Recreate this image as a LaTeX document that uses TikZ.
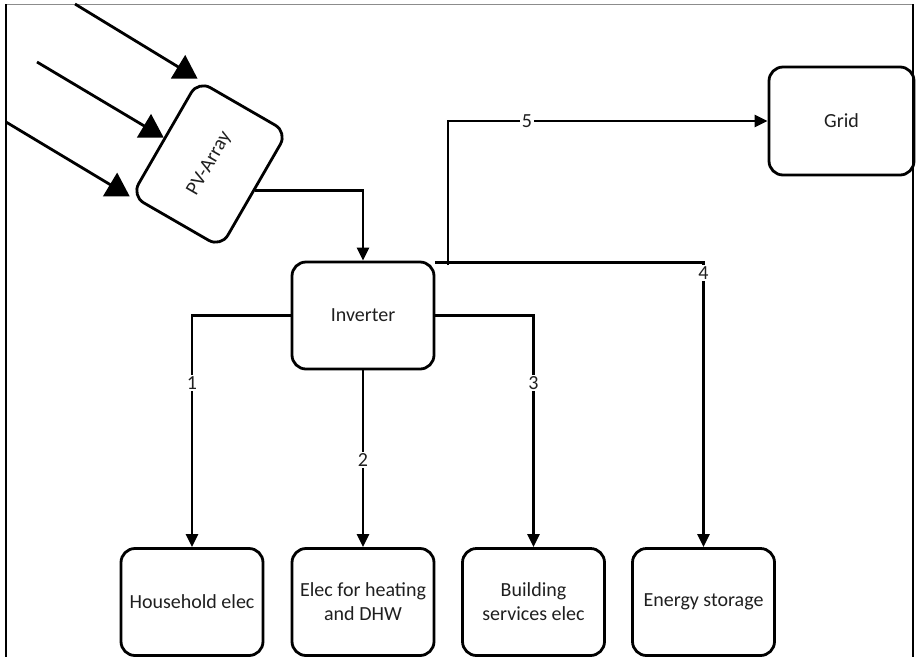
\documentclass[tikz,border=0pt]{standalone}
\usepackage{fontspec}
\setmainfont{Carlito}
\usetikzlibrary{arrows.meta}
\tikzset{
  box/.style={draw, line width=2.8pt, rounded corners=14pt, minimum width=142pt, minimum height=107pt,
    align=center, inner sep=0pt, font=\fontsize{20}{24}\selectfont, text=black!88},
  conn/.style={line width=2.8pt, -{Triangle[length=13pt,width=12pt]}},
  ray/.style={line width=2.8pt, -{Triangle[length=23pt,width=27pt]}},
  lbl/.style={fill=white, inner sep=1.5pt, font=\fontsize{20}{24}\selectfont, text=black!88},
  frameline/.style={line width=2pt}
}
\begin{document}
\begin{tikzpicture}[x=1pt,y=-1pt]
\useasboundingbox (0,0) rectangle (917,657);
% frame
\draw[black!45, line width=1pt] (6,4) -- (913,4);
\draw[frameline] (6,4) -- (6,657);
\draw[frameline] (913,4) -- (913,657);
% nodes
\node[box, rotate=60, minimum width=133pt, minimum height=103pt] (pv) at (209.5,164) {PV-Array};
\node[box] (inv) at (363,315.5) {Inverter};
\node[box, minimum width=145pt, minimum height=108pt] (grid) at (841.5,121) {Grid};
\node[box] (hh) at (192,602) {Household elec};
\node[box] (heat) at (363,602) {Elec for heating\\and DHW};
\node[box] (bld) at (533.5,602) {Building\\services elec};
\node[box] (sto) at (703.5,602) {Energy storage};
% rays
\coordinate (r1) at (75,4);
\coordinate (r2) at (37,62);
\coordinate (r3) at (6,122);
\draw[ray] (r1) -- (pv.north east);
\draw[ray] (r2) -- (pv.north);
\draw[ray] (r3) -- (pv.north west);
% connectors
\draw[conn] (pv.south) -| (inv.north);
\draw[conn] (inv.west) -| (hh.north);
\draw[conn] (inv.south) -- (heat.north);
\draw[conn] (inv.east) -| (bld.north);
\draw[conn] ([yshift=-2pt]inv.north east) -| (sto.north);
\coordinate (b5) at (448,265);
\draw[conn] (b5) |- (grid.west);
% labels
\node[lbl] (l1) at (192,383) {1};
\node[lbl] (l2) at (363,460) {2};
\node[lbl] (l3) at (533.5,383) {3};
\node[lbl] (l4) at (703.5,273) {4};
\node[lbl] (l5) at (527,121) {5};
\end{tikzpicture}
\end{document}
